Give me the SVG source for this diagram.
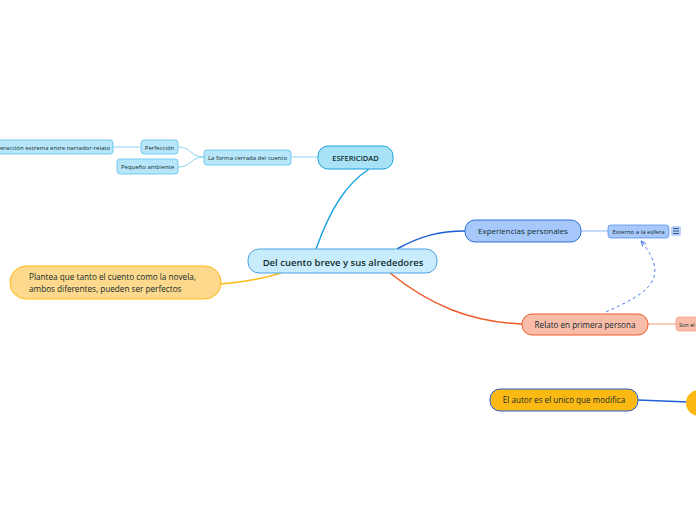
<svg xmlns="http://www.w3.org/2000/svg" width="696" height="520" viewBox="0 0 696 520">
<style>
text{font-family:"Open Sans","Noto Sans","Liberation Sans",sans-serif;fill:#112c2c}
.c{text-anchor:middle}
.b{font-weight:600}
</style>
<defs>
<marker id="ah" viewBox="0 0 10 10" refX="9" refY="5" markerWidth="6" markerHeight="6" orient="auto-start-reverse">
<path d="M0,1 L9,5 L0,9" fill="none" stroke="#4a7bf0" stroke-width="1.6"/>
</marker>
</defs>
<rect width="696" height="520" fill="#fff"/>
<g id="connectors" fill="none">
<path d="M316,249 C330,210 345,185 369,169" stroke="#1ba2e0" stroke-width="1.5"/>
<path d="M318,157 L291,157" stroke="#8fd3f2" stroke-width="1"/>
<path d="M204,157 C190,157 192,147 178,147" stroke="#8fd3f2" stroke-width="1"/>
<path d="M204,157 C190,157 192,167 178,167" stroke="#8fd3f2" stroke-width="1"/>
<path d="M141,147 L113,147" stroke="#8fd3f2" stroke-width="1"/>
<path d="M397,249 C420,236 440,231 465,231" stroke="#1d5fd6" stroke-width="1.5"/>
<path d="M581,231 L608,231" stroke="#8fb3f5" stroke-width="1"/>
<path d="M390,273 C430,305 470,322 522,324" stroke="#f05a28" stroke-width="1.5"/>
<path d="M648,324 L676,324" stroke="#f9bca8" stroke-width="1.5"/>
<path d="M221,284 C245,282 262,279 281,273" stroke="#fdb913" stroke-width="1.5"/>
<path d="M638,400 L688,402" stroke="#1d5fd6" stroke-width="1.5"/>
<path d="M606,312 C640,296 675,282 641,241" stroke="#4a7bf0" stroke-width="1" stroke-dasharray="3,3" marker-end="url(#ah)"/>
</g>
<g id="central">
<rect x="248" y="249" width="189" height="24" rx="11" fill="#c9ecfc" stroke="#4aa3df" stroke-width="1"/>
<text x="343" y="265.5" class="c b" font-size="9.5">Del cuento breve y sus alrededores</text>
</g>
<g id="esfericidad">
<rect x="318" y="146" width="75" height="23" rx="10" fill="#a8e2f7" stroke="#1ba2e0" stroke-width="1"/>
<text x="355.5" y="160.5" class="c b" font-size="7.5">ESFERICIDAD</text>
</g>
<g id="forma">
<rect x="204" y="150" width="87" height="15" rx="3" fill="#b7e6fa" stroke="#5bc0eb" stroke-width="0.8"/>
<text x="247.5" y="160" class="c" font-size="6">La forma cerrada del cuento</text>
</g>
<g id="perfeccion">
<rect x="141" y="140" width="37" height="14" rx="3" fill="#b7e6fa" stroke="#5bc0eb" stroke-width="0.8"/>
<text x="159.5" y="149.5" class="c" font-size="6">Perfección</text>
</g>
<g id="pequeno">
<rect x="117" y="159" width="61" height="15" rx="3" fill="#b7e6fa" stroke="#5bc0eb" stroke-width="0.8"/>
<text x="147.5" y="169" class="c" font-size="6">Pequeño ambiente</text>
</g>
<g id="interaccion">
<rect x="-30" y="140" width="143" height="14" rx="3" fill="#b7e6fa" stroke="#5bc0eb" stroke-width="0.8"/>
<text x="110" y="149.5" text-anchor="end" font-size="6">Interacción extrema entre narrador-relato</text>
</g>
<g id="plantea">
<rect x="10" y="266" width="211" height="33" rx="16" fill="#fdd98d" stroke="#fdb913" stroke-width="1"/>
<text x="29" y="280" font-size="8.2">Plantea que tanto el cuento como la novela,</text>
<text x="29" y="292" font-size="8.2">ambos diferentes, pueden ser perfectos</text>
</g>
<g id="experiencias">
<rect x="465" y="220" width="116" height="22" rx="10" fill="#a6c8fb" stroke="#2a6fdc" stroke-width="1"/>
<text x="523" y="234" class="c" font-size="8">Experiencias personales</text>
</g>
<g id="externo">
<rect x="608" y="225" width="61" height="13" rx="3" fill="#a8c8fb" stroke="#5b8ff0" stroke-width="0.8"/>
<text x="638.5" y="234" class="c" font-size="6">Externo a la esfera</text>
<rect x="671" y="226" width="10" height="10" rx="1.5" fill="#bcd3fb"/>
<path d="M673,228.5 H679 M673,231 H679 M673,233.5 H679" stroke="#1d3f8a" stroke-width="0.9"/>
</g>
<g id="relato">
<rect x="522" y="314" width="126" height="21" rx="10" fill="#f9bca8" stroke="#f05a28" stroke-width="1"/>
<text x="585" y="327.5" class="c" font-size="8.1">Relato en primera persona</text>
</g>
<g id="son">
<rect x="676" y="317" width="40" height="14" rx="3" fill="#f9bca8" stroke="#f3a08a" stroke-width="0.8"/>
<text x="679" y="326.5" font-size="5.5">Son el</text>
</g>
<g id="autor">
<rect x="490" y="389" width="148" height="22" rx="10" fill="#fdb913" stroke="#1d5fd6" stroke-width="1"/>
<text x="564" y="403" class="c" font-size="8.1">El autor es el unico que modifica</text>
</g>
<g id="circle">
<circle cx="699" cy="403" r="13" fill="#fdb913"/>
</g>
</svg>
